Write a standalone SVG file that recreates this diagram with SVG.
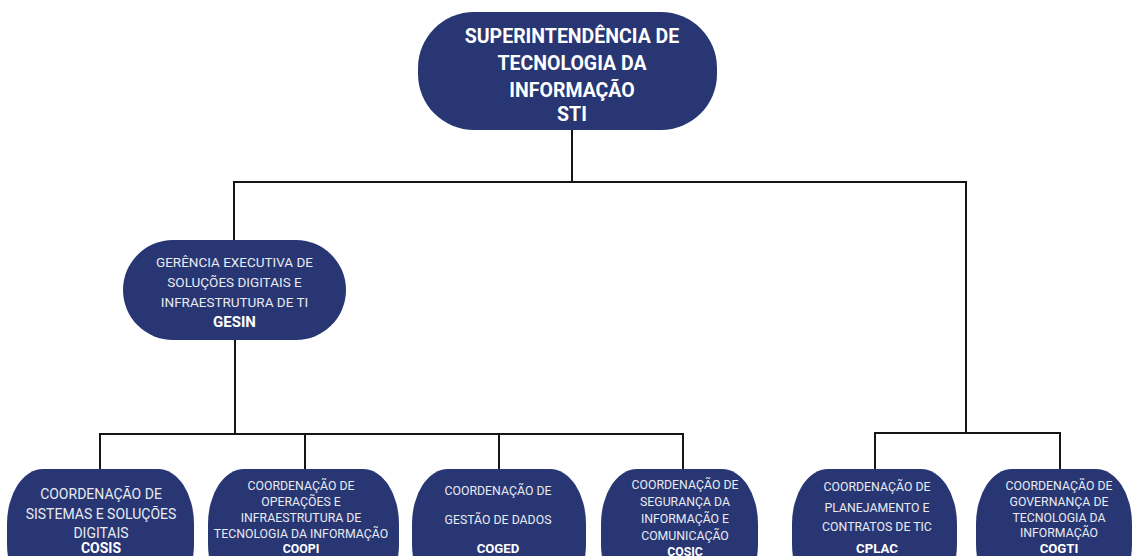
<svg xmlns="http://www.w3.org/2000/svg" width="1132" height="556" viewBox="0 0 1132 556">
<style>
.box{fill:#283673;}
.ln{fill:none;stroke:#151515;stroke-width:2;}
text{font-family:Roboto,"Liberation Sans",sans-serif;fill:#e9ebf2;text-anchor:middle;}
.t{font-size:19.5px;font-weight:700;fill:#ffffff;}
.g{font-size:13.5px;}
.bb{font-weight:700;fill:#ffffff;}
.s{font-size:12.3px;}
.m{font-size:14px;}
.a{font-size:13.2px;}
.ag{font-size:15px;}
</style>
<rect width="1132" height="556" fill="#ffffff"/>
<g id="connectors">
<path class="ln" d="M572,130 V182 M234,241 V182 H966 V433"/>
<path class="ln" d="M235,340 V434 M100,470 V434 H683 V470 M305,434 V470 M499,434 V470"/>
<path class="ln" d="M875,470 V433 H1060 V470"/>
</g>
<g id="sti">
<rect class="box" x="418" y="12" width="299" height="118" rx="56" ry="56"/>
<text class="t" x="572" y="43">SUPERINTENDÊNCIA DE</text>
<text class="t" x="572" y="70">TECNOLOGIA DA</text>
<text class="t" x="572" y="97">INFORMAÇÃO</text>
<text class="t" x="572" y="121">STI</text>
</g>
<g id="gesin">
<rect class="box" x="123" y="240" width="223" height="100" rx="50" ry="50"/>
<text class="g" x="234.5" y="267">GERÊNCIA EXECUTIVA DE</text>
<text class="g" x="234.5" y="287">SOLUÇÕES DIGITAIS E</text>
<text class="g" x="234.5" y="307">INFRAESTRUTURA DE TI</text>
<text class="ag bb" x="234.5" y="327">GESIN</text>
</g>
<g id="cosis">
<rect class="box" x="7" y="469" width="187" height="130" rx="36" ry="55"/>
<text class="m" x="101" y="499">COORDENAÇÃO DE</text>
<text class="m" x="101" y="519">SISTEMAS E SOLUÇÕES</text>
<text class="m" x="101" y="538">DIGITAIS</text>
<text class="m bb" x="101" y="553">COSIS</text>
</g>
<g id="coopi">
<rect class="box" x="208" y="469" width="191" height="130" rx="36" ry="55"/>
<text class="s" x="301" y="490">COORDENAÇÃO DE</text>
<text class="s" x="301" y="506">OPERAÇÕES E</text>
<text class="s" x="301" y="522">INFRAESTRUTURA DE</text>
<text class="s" x="301" y="538">TECNOLOGIA DA INFORMAÇÃO</text>
<text class="s bb" x="301" y="553">COOPI</text>
</g>
<g id="coged">
<rect class="box" x="412" y="469" width="174" height="130" rx="36" ry="55"/>
<text class="s" x="498" y="495">COORDENAÇÃO DE</text>
<text class="s" x="498" y="524">GESTÃO DE DADOS</text>
<text class="a bb" x="498" y="553">COGED</text>
</g>
<g id="cosic">
<rect class="box" x="601" y="469" width="157" height="130" rx="36" ry="55"/>
<text class="s" x="685" y="489">COORDENAÇÃO DE</text>
<text class="s" x="685" y="506">SEGURANÇA DA</text>
<text class="s" x="685" y="523">INFORMAÇÃO E</text>
<text class="s" x="685" y="540">COMUNICAÇÃO</text>
<text class="s bb" x="685" y="556">COSIC</text>
</g>
<g id="cplac">
<rect class="box" x="792" y="469" width="165" height="130" rx="36" ry="55"/>
<text class="s" x="877" y="491">COORDENAÇÃO DE</text>
<text class="s" x="877" y="512">PLANEJAMENTO E</text>
<text class="s" x="877" y="531">CONTRATOS DE TIC</text>
<text class="a bb" x="877" y="553">CPLAC</text>
</g>
<g id="cogti">
<rect class="box" x="976" y="469" width="156" height="130" rx="36" ry="55"/>
<text class="s" x="1059" y="490">COORDENAÇÃO DE</text>
<text class="s" x="1059" y="506">GOVERNANÇA DE</text>
<text class="s" x="1059" y="522">TECNOLOGIA DA</text>
<text class="s" x="1059" y="537">INFORMAÇÃO</text>
<text class="a bb" x="1059" y="553">COGTI</text>
</g>
</svg>
